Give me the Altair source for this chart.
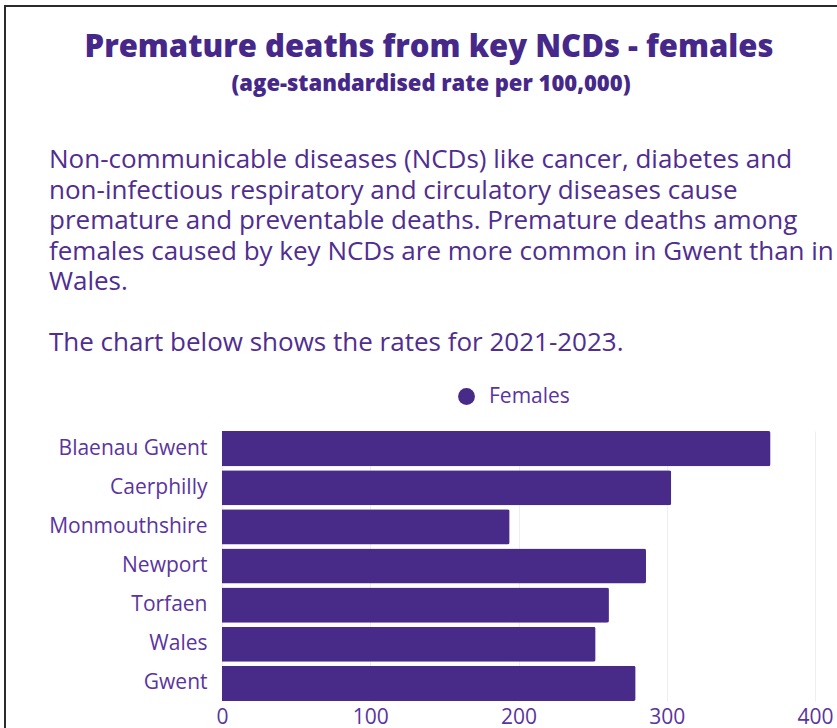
import altair as alt
import pandas as pd

# Age-standardised premature death rates per 100,000 (females, 2021-2023)
regions = ["Blaenau Gwent", "Caerphilly", "Monmouthshire", "Newport", "Torfaen", "Wales", "Gwent"]
rates = [370, 303, 194, 286, 261, 252, 279]
series = ["Females"] * len(regions)
x_ticks = [0, 100, 200, 300, 400]

title_text = "Premature deaths from key NCDs - females"
subtitle_text = "(age-standardised rate per 100,000)"
intro_lines = [
    "Non-communicable diseases (NCDs) like cancer, diabetes and",
    "non-infectious respiratory and circulatory diseases cause",
    "premature and preventable deaths. Premature deaths among",
    "females caused by key NCDs are more common in Gwent than in",
    "Wales.",
]
lead_in_text = "The chart below shows the rates for 2021-2023."

BAR = "#482b88"
HEAD = "#46288a"
BODY = "#502d90"
LABEL = "#5a34a0"
FRAME = "#2b2b2b"
FONT = "Open Sans"

df = pd.DataFrame({"region": regions, "rate": rates, "series": series})
one = alt.Data(values=[{}])

bars = alt.Chart(df).mark_bar(cornerRadiusEnd=2).encode(
    y=alt.Y(
        "region:N",
        sort=regions,
        title=None,
        scale=alt.Scale(paddingInner=0.1, paddingOuter=0),
        axis=alt.Axis(
            domain=False, ticks=False, grid=False,
            labelFont=FONT, labelFontSize=21, labelColor=LABEL,
            labelPadding=15, labelLimit=300,
        ),
    ),
    x=alt.X(
        "rate:Q",
        title=None,
        scale=alt.Scale(domain=[0, 400], nice=False),
        axis=alt.Axis(
            values=x_ticks, domain=False, ticks=False, grid=True,
            gridColor="#eeeef1", gridWidth=1,
            labelFont=FONT, labelFontSize=21, labelColor=LABEL,
            labelPadding=5, labelFlush=False,
        ),
    ),
    color=alt.Color(
        "series:N",
        scale=alt.Scale(range=[BAR]),
        legend=alt.Legend(
            title=None, orient="none", legendX=234, legendY=-45,
            symbolType="circle", symbolSize=284, symbolStrokeWidth=0,
            labelFont=FONT, labelFontSize=21, labelColor=LABEL,
            labelOffset=12, padding=0,
        ),
    ),
)

# Frame lines along the top and left edges
frame_top = alt.Chart(one).mark_rule(color=FRAME, strokeWidth=2).encode(
    x=alt.value(-217), x2=alt.value(700), y=alt.value(-425)
)
frame_left = alt.Chart(one).mark_rule(color=FRAME, strokeWidth=2).encode(
    x=alt.value(-217), y=alt.value(-426), y2=alt.value(400)
)

title = alt.Chart(one).mark_text(
    text=title_text, font=FONT, fontWeight=800, fontSize=31,
    color=HEAD, align="center", baseline="alphabetic",
).encode(x=alt.value(207), y=alt.value(-374))

subtitle = alt.Chart(one).mark_text(
    text=subtitle_text, font=FONT, fontWeight=800, fontSize=22,
    color=HEAD, align="center", baseline="alphabetic",
).encode(x=alt.value(209), y=alt.value(-340))

intro = alt.Chart(one).mark_text(
    text=intro_lines, font=FONT, fontSize=26, lineHeight=30.6,
    color=BODY, align="left", baseline="alphabetic",
).encode(x=alt.value(-173), y=alt.value(-263))

lead_in = alt.Chart(one).mark_text(
    text=lead_in_text, font=FONT, fontSize=26,
    color=BODY, align="left", baseline="alphabetic",
).encode(x=alt.value(-173), y=alt.value(-80))

chart = alt.layer(frame_top, frame_left, title, subtitle, intro, lead_in, bars).properties(
    width=593,
    height=270,
    autosize=alt.AutoSizeParams(type="none"),
    padding={"left": 222, "top": 431, "right": 22, "bottom": 27},
    background="white",
).configure_view(stroke=None)

chart.save("out.html", embed_options={"renderer": "svg", "actions": False})
